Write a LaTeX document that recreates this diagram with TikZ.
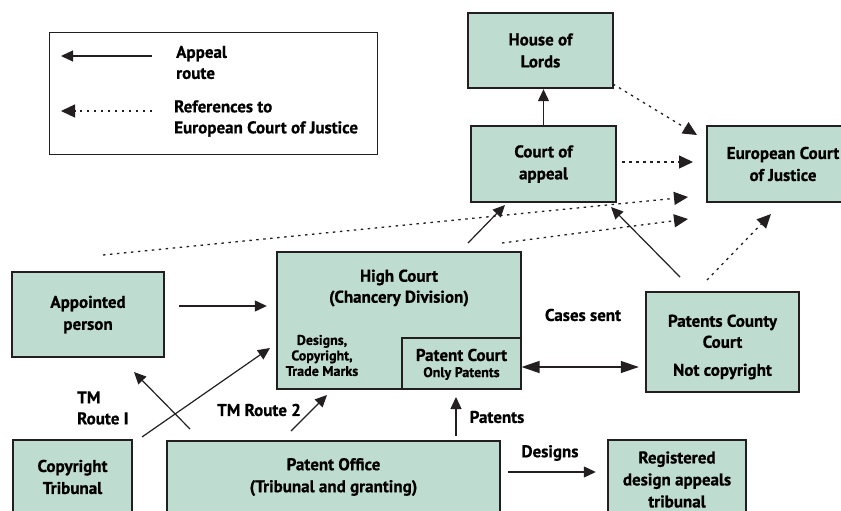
\documentclass[tikz,border=0pt]{standalone}
\usepackage{fontspec}
\setmainfont{PT Sans}[BoldFeatures={FakeBold=0.8}]
\usetikzlibrary{arrows.meta}

\definecolor{courtgreen}{RGB}{191,220,208}
\definecolor{edgegray}{RGB}{35,31,32}

\tikzset{
    court/.style={draw=edgegray, line width=2.4pt, fill=courtgreen, inner sep=0pt,
        align=center, font=\bfseries\fontsize{17}{22}\selectfont},
    lbl/.style={align=center, inner sep=0pt, font=\bfseries\fontsize{17}{21}\selectfont},
    small/.style={align=center, inner sep=0pt, font=\bfseries\fontsize{14}{15.5}\selectfont},
    appeal/.style={draw=edgegray, line width=1.2pt, -{Triangle[length=12pt,width=11pt]}},
    refer/.style={draw=edgegray, line width=1.3pt, dash pattern=on 2.5pt off 4.5pt,
        -{Triangle[length=14pt,width=13pt]}},
    twoway/.style={draw=edgegray, line width=1.2pt,
        {Triangle[length=18pt,width=12pt]}-{Triangle[length=18pt,width=12pt]}}
}

\begin{document}
\begin{tikzpicture}[x=1pt, y=-1pt]
    \useasboundingbox (0,0) rectangle (841,511);
    \clip (0,0) rectangle (841,511);

    % Legend
    \node[draw=edgegray, line width=1pt, minimum width=328pt, minimum height=121pt] (legend) at (213,93.5) {};
    \coordinate (lg-a0) at (61,56);  \coordinate (lg-a1) at (152,56);
    \coordinate (lg-r0) at (61,111); \coordinate (lg-r1) at (152,111);
    \draw[appeal] (lg-a1) -- (lg-a0);
    \draw[refer] (lg-r1) -- (lg-r0);
    \node[lbl, anchor=west, align=left] (lg-appeal) at (176,62.5) {Appeal\\route};
    \node[lbl, anchor=west, align=left] (lg-refer) at (174,118.5) {References to\\European Court of Justice};

    % Courts
    \node[court, minimum width=145pt, minimum height=75pt] (hol) at (540.5,50.5) {House of\\Lords};
    \node[court, minimum width=145pt, minimum height=76pt] (coa) at (543.5,164) {Court of\\appeal};
    \node[court, minimum width=152pt, minimum height=76pt] (ecj) at (783,164) {European Court\\of Justice};
    \node[court, minimum width=152pt, minimum height=85pt] (ap) at (88,314.5) {Appointed\\person};
    \node[court, minimum width=244pt, minimum height=137pt] (hc) at (399,320.5) {};
    \node[draw=edgegray, line width=1.1pt, minimum width=119pt, minimum height=51pt] (pc) at (461.5,363.5) {};
    \node[lbl] (hc-title) at (399,288) {High Court\\(Chancery Division)};
    \node[small] (hc-left) at (322,355.5) {Designs,\\Copyright,\\Trade Marks};
    \node[lbl] (pc-title) at (461.5,355) {Patent Court};
    \node[small] (pc-only) at (461.5,373.5) {Only Patents};
    \node[court, minimum width=153pt, minimum height=100pt] (pcc) at (722.5,342) {};
    \node[lbl] (pcc-text) at (722.5,347) {Patents County\\Court\\[7pt]Not copyright};
    \node[court, minimum width=119pt, minimum height=74pt] (ct) at (72.5,477) {Copyright\\Tribunal};
    \node[court, minimum width=333pt, minimum height=72pt] (po) at (333.5,477) {Patent Office\\(Tribunal and granting)};
    \node[court, minimum width=138pt, minimum height=79pt] (reg) at (677,479.5) {Registered\\design appeals\\tribunal};

    % Appeal routes
    \coordinate (hc-up) at (468,243);   \coordinate (coa-l) at (505,205);
    \coordinate (pcc-up) at (680,277);  \coordinate (coa-r) at (611,207);
    \coordinate (ct-up) at (142,437);   \coordinate (hc-l) at (270,348);
    \coordinate (po-l) at (190,429);    \coordinate (ap-dn) at (134,372);
    \coordinate (po-m) at (291,431);    \coordinate (hc-dn) at (327,395);
    \coordinate (po-r) at (456,436);    \coordinate (pc-dn) at (456,397);
    \draw[appeal] (coa.north) -- (coa.north |- hol.south);
    \draw[appeal] (hc-up) -- (coa-l);
    \draw[appeal] (pcc-up) -- (coa-r);
    \draw[appeal, shorten <=14pt, shorten >=9pt] ([yshift=8.5pt]ap.east) -- ([yshift=8.5pt]ap.east -| hc.west);
    \draw[appeal] (ct-up) -- (hc-l);
    \draw[appeal] (po-l) -- (ap-dn);
    \draw[appeal] (po-m) -- (hc-dn);
    \draw[appeal] (po-r) -- (pc-dn);
    \draw[appeal, shorten <=7pt, shorten >=11pt] ([yshift=5pt]po.east) -- ([yshift=5pt]po.east -| reg.west);
    \draw[twoway, shorten >=6pt] ([yshift=-3.5pt]pc.east) -- ([yshift=-3.5pt]pc.east -| pcc.west);

    % References to the ECJ
    \coordinate (hol-ref) at (613,84);  \coordinate (ecj-a) at (697,135);
    \coordinate (coa-ref) at (622,162); \coordinate (ecj-b) at (693,162);
    \coordinate (ap-ref) at (103,255);  \coordinate (ecj-c) at (688,197);
    \coordinate (hc-ref) at (502,243);  \coordinate (ecj-d) at (688,219);
    \coordinate (pcc-ref) at (707,280); \coordinate (ecj-e) at (771,214);
    \draw[refer] (hol-ref) -- (ecj-a);
    \draw[refer] (coa-ref) -- (ecj-b);
    \draw[refer] (ap-ref) -- (ecj-c);
    \draw[refer] (hc-ref) -- (ecj-d);
    \draw[refer] (pcc-ref) -- (ecj-e);

    % Route labels
    \node[lbl] (cases) at (583,315) {Cases sent};
    \node[lbl] (patents) at (497,417) {Patents};
    \node[lbl] (designs) at (550,453) {Designs};
    \node[lbl, anchor=west, align=left] (tm1) at (77,408) {TM\\Route I};
    \node[lbl] (tm2) at (259,410) {TM Route 2};
\end{tikzpicture}
\end{document}
